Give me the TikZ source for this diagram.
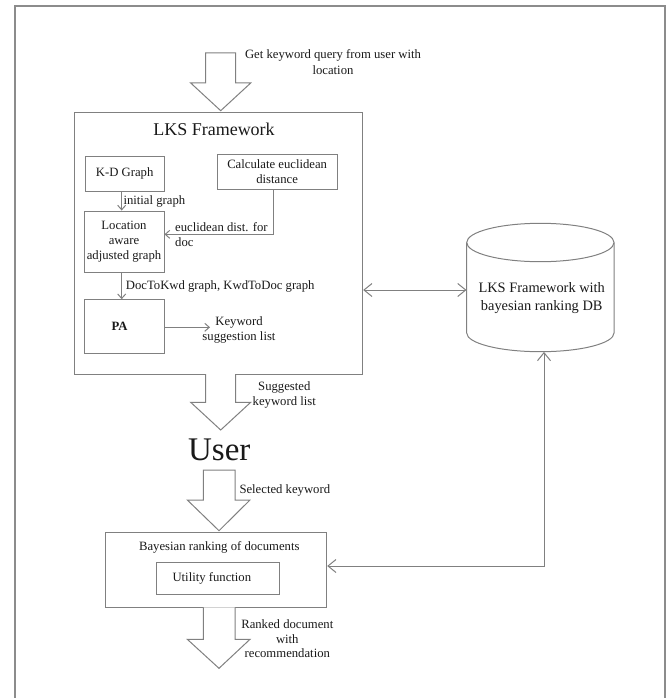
\documentclass[tikz,border=0pt]{standalone}
\usepackage{fontspec}
\setmainfont{Liberation Serif}
\usetikzlibrary{arrows.meta}
\definecolor{lncol}{RGB}{128,128,128}
\definecolor{frcol}{RGB}{140,140,140}
\definecolor{tx}{RGB}{25,25,25}
\newcommand\myfs[2]{\fontsize{#1}{#2}\selectfont}
\begin{document}
\begin{tikzpicture}[x=1pt,y=-1pt,
  ln/.style={draw=lncol, line width=1pt},
  box/.style={ln, inner sep=0pt, text=tx, font=\myfs{12.7}{15}, align=center},
  lbl/.style={inner sep=0pt, text=tx, font=\myfs{12.7}{15}, align=center},
  sarr/.style={draw=lncol, line width=1pt, -{Straight Barb[length=4.5pt,width=8pt]}},
  barr/.style={draw=lncol, line width=1pt, {Straight Barb[length=8pt,width=13pt]}-{Straight Barb[length=8pt,width=13pt]}},
  blk/.style={draw=lncol, line width=1pt, fill=white, line join=miter}]
\useasboundingbox (0,0) rectangle (668,698);
% outer frame
\draw[draw=frcol, line width=1.2pt] (15,698) -- (15,6) -- (665,6) -- (665,698);

% top block arrow
\draw[blk] (205.7,53) -- (235.7,53) -- (235.7,83) -- (250.7,83) -- (220.7,110.7) -- (190.7,83) -- (205.7,83) -- cycle;
\node[lbl, font=\myfs{12.7}{16}] (query) at (333,62) {Get keyword query from user with\\location};

% LKS framework box
\node[box, minimum width=288.7pt, minimum height=261.3pt] (lks) at (218.35,243.35) {};
\node[lbl, font=\myfs{18}{20}] (lkstitle) at (214,129) {LKS Framework};
\node[box, minimum width=79.3pt, minimum height=35pt] (kd) at (124.65,173.5) {K-D Graph};
\node[box, minimum width=120.3pt, minimum height=34.7pt] (calc) at (277.15,171.65) {Calculate euclidean\\distance};
\node[box, minimum width=80pt, minimum height=61.3pt] (loc) at (124,241.65) {Location\\aware\\adjusted graph};
\node[box, minimum width=80.4pt, minimum height=53.6pt, font=\myfs{12.7}{15}\bfseries] (pa) at (124.5,326.5) {\hspace*{-10pt}PA};

\node[lbl, anchor=west] (ig) at (123.3,201) {initial graph};
\node[lbl, anchor=west, align=left] (ed) at (175,234.5) {euclidean dist. for\\doc};
\node[lbl, anchor=west] (dk) at (125.7,286.7) {DocToKwd graph, KwdToDoc graph};
\node[lbl] (ksl) at (239,329.5) {Keyword\\suggestion list};
\coordinate (kslt) at (210,327.3);

\draw[sarr] ([xshift=-3pt]kd.south) -- ([xshift=-3pt]kd.south |- loc.north);
\draw[sarr] ([xshift=-3.85pt]calc.south) |- ([yshift=7.3pt]loc.east);
\draw[sarr] ([xshift=-2.3pt]loc.south) -- ([xshift=-2.3pt]loc.south |- pa.north);
\draw[sarr] ([yshift=-0.8pt]pa.east) -- ([yshift=-0.8pt]pa.east -| kslt);

% suggested keyword list arrow
\draw[blk] (205.7,374) -- (205.7,402.3) -- (190.7,402.3) -- (220.7,430) -- (250.7,402.3) -- (235.7,402.3) -- (235.7,374);
\node[lbl] (sug) at (284.3,395) {Suggested\\keyword list};

% user
\node[inner sep=0pt, text=tx, font=\myfs{33}{36}] (user) at (219.3,449.5) {User};

% selected keyword arrow
\draw[blk] (203.3,470) -- (235,470) -- (235,500) -- (250,500) -- (219,530.7) -- (187.3,500) -- (203.3,500) -- cycle;
\node[lbl, anchor=west] (sel) at (239.3,490) {Selected keyword};

% Bayesian box
\node[box, minimum width=221.7pt, minimum height=75.3pt] (bay) at (215.85,569.65) {};
\node[lbl] (baytitle) at (219.3,547.3) {Bayesian ranking of documents};
\node[box, minimum width=122.3pt, minimum height=31.6pt] (util) at (217.85,578.5) {\hspace*{-12pt}Utility function};

% bottom arrow
\draw[blk] (203.3,607.3) -- (203.3,639.3) -- (187.3,639.3) -- (219,668.3) -- (250,639.3) -- (235,639.3) -- (235,607.3);
\node[lbl, font=\myfs{12.7}{14.5}] (rank) at (287.3,639) {Ranked document\\with\\recommendation};

% database cylinder
\node[inner sep=0pt, minimum width=147.3pt, minimum height=128.4pt] (db) at (540.35,287.5) {};
\draw[ln] (540.35,242.5) ellipse [x radius=73.65, y radius=19.2];
\draw[ln] (466.7,242.5) -- (466.7,333)
  .. controls (466.7,343.3) and (499.7,351.7) .. (540.35,351.7)
  .. controls (581,351.7) and (614,343.3) .. (614,333) -- (614,242.5);
\node[lbl, font=\myfs{14.4}{18}] (dbtext) at (541.7,298.3) {LKS Framework with\\bayesian ranking DB};

\draw[barr] ([yshift=-2.5pt]db.west -| lks.east) -- ([yshift=-2.5pt]db.west);
\draw[barr] ([xshift=3.65pt]db.south) |- ([yshift=3.65pt]bay.east);
\end{tikzpicture}
\end{document}
